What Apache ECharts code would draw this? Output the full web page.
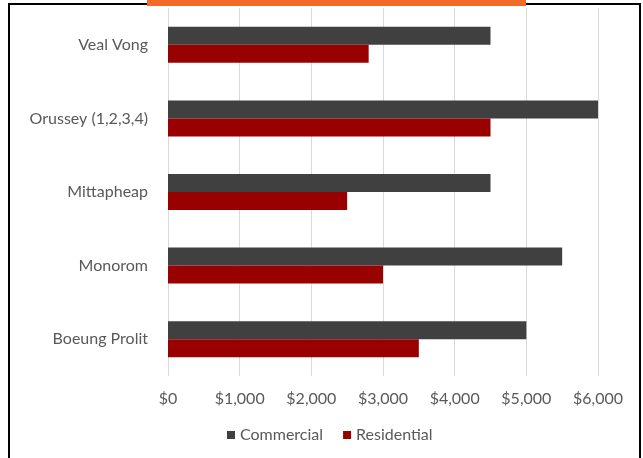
<!DOCTYPE html>
<html>
<head>
<meta charset="utf-8">
<script src="https://cdn.jsdelivr.net/npm/echarts@6/dist/echarts.min.js"></script>
<style>
html,body{margin:0;padding:0;background:#fff;}
#chart{width:643px;height:458px;}
</style>
</head>
<body>
<div id="chart"></div>
<script>
var categories = ['Veal Vong', 'Orussey (1,2,3,4)', 'Mittapheap', 'Monorom', 'Boeung Prolit'];
var commercial = [4500, 6000, 4500, 5500, 5000];
var residential = [2800, 4500, 2500, 3000, 3500];
var seriesNames = ['Commercial', 'Residential'];
var xTickLabels = ['$0', '$1,000', '$2,000', '$3,000', '$4,000', '$5,000', '$6,000'];

var FONT = 'Lato';
var TXT = '#595959';
var chart = echarts.init(document.getElementById('chart'), null, {renderer: 'canvas'});
chart.setOption({
  backgroundColor: '#ffffff',
  animation: false,
  grid: {left: 168, right: 45, top: 8, bottom: 82, containLabel: false},
  legend: {
    data: seriesNames,
    left: 227, top: 427, padding: 0,
    icon: 'rect', itemWidth: 8, itemHeight: 8, itemGap: 20,
    textStyle: {fontFamily: FONT, fontSize: 16, color: TXT}
  },
  xAxis: {
    type: 'value', min: 0, max: 6000, interval: 1000,
    axisLine: {show: false}, axisTick: {show: false},
    splitLine: {show: true, lineStyle: {color: '#d9d9d9', width: 1}},
    axisLabel: {
      margin: 15, fontFamily: FONT, fontSize: 16, color: TXT,
      formatter: function (v) { return xTickLabels[Math.round(v / 1000)]; }
    }
  },
  yAxis: {
    type: 'category', data: categories, inverse: true,
    axisLine: {show: false}, axisTick: {show: false},
    axisLabel: {margin: 20, fontFamily: FONT, fontSize: 16, color: TXT}
  },
  series: [
    {name: seriesNames[0], type: 'bar', data: commercial, barWidth: 18, barGap: '0%',
     itemStyle: {color: '#404040'}},
    {name: seriesNames[1], type: 'bar', data: residential, barWidth: 18, barGap: '0%',
     itemStyle: {color: '#990000'}}
  ],
  graphic: [
    {type: 'rect', shape: {x: 9, y: 4, width: 631, height: 470},
     style: {fill: null, stroke: '#000', lineWidth: 2}, silent: true, z: 100},
    {type: 'rect', shape: {x: 147, y: 0, width: 379, height: 6},
     style: {fill: '#f26a2a'}, silent: true, z: 101}
  ]
});
</script>
</body>
</html>
